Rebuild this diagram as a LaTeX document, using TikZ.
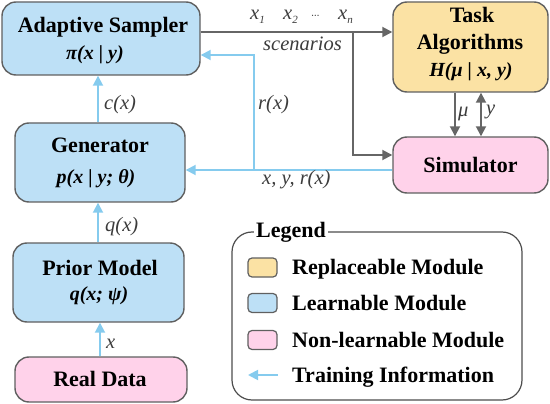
\documentclass[tikz,border=0pt]{standalone}
\usepackage{fontspec}
\setmainfont{Liberation Serif}
\usetikzlibrary{arrows.meta,calc}
\definecolor{lblue}{HTML}{BDE0F6}
\definecolor{lyellow}{HTML}{FBE2A4}
\definecolor{lpink}{HTML}{FFD2EA}
\definecolor{bordergray}{HTML}{606060}
\definecolor{arrgray}{HTML}{666666}
\definecolor{arrblue}{HTML}{85CBEE}
\definecolor{labelgray}{HTML}{3C3C3C}
\begin{document}
\begin{tikzpicture}[x=1pt,y=-1pt,
  box/.style={draw=bordergray, line width=1.4pt, rounded corners=14pt, inner sep=0pt, anchor=center},
  swatch/.style={draw=bordergray, line width=1.2pt, rounded corners=4pt, inner sep=0pt, minimum width=29pt, minimum height=19pt},
  ttl/.style={font=\fontsize{22}{22}\selectfont\bfseries, anchor=base, inner sep=0pt},
  frm/.style={font=\fontsize{20}{20}\selectfont\bfseries\itshape, anchor=base, inner sep=0pt},
  lbl/.style={font=\fontsize{20.5}{20.5}\selectfont\itshape, text=labelgray, anchor=base west, inner sep=0pt},
  legtxt/.style={font=\fontsize{22}{22}\selectfont\bfseries, anchor=base west, inner sep=0pt},
  garr/.style={draw=arrgray, line width=1.8pt, -{Triangle[length=10pt,width=10pt]}},
  gdarr/.style={draw=arrgray, line width=1.8pt, {Triangle[length=10pt,width=10pt]}-{Triangle[length=10pt,width=10pt]}},
  barr/.style={draw=arrblue, line width=1.8pt, -{Triangle[length=10pt,width=10pt]}}
]
\useasboundingbox (0,0) rectangle (550,404);

% boxes
\node[box, fill=lblue, minimum width=198pt, minimum height=73pt] (sampler) at (101,38.5) {};
\node[box, fill=lblue, minimum width=170pt, minimum height=79pt] (gen) at (100,162.5) {};
\node[box, fill=lblue, minimum width=171pt, minimum height=79pt] (prior) at (98.5,282.5) {};
\node[box, fill=lpink, minimum width=172pt, minimum height=45pt] (real) at (101,379.5) {};
\node[box, fill=lyellow, minimum width=155pt, minimum height=90pt] (task) at (470.5,47) {};
\node[box, fill=lpink, minimum width=155pt, minimum height=56pt] (sim) at (470.5,165) {};

% box texts
\node[ttl] (samplerT) at (103,33) {Adaptive Sampler};
\node[frm] (samplerF) at (95,60) {π(x | y)};
\node[ttl] (genT) at (100,153) {Generator};
\node[frm] (genF) at (96,183) {p(x | y; θ)};
\node[ttl] (priorT) at (100,276) {Prior Model};
\node[frm] (priorF) at (99,300) {q(x; ψ)};
\node[ttl] (realT) at (100,386) {Real Data};
\node[ttl] (taskT1) at (472,23) {Task};
\node[ttl] (taskT2) at (470,50) {Algorithms};
\node[frm] (taskF) at (471,77) {H(μ | x, y)};
\node[ttl] (simT) at (470.5,173) {Simulator};

% helper coordinates
\coordinate (yA) at (0,32);
\coordinate (yB) at (0,155);
\coordinate (yC) at (0,170);
\coordinate (yD) at (0,55);
\coordinate (br) at (353,32);
\coordinate (rb) at (254,170);
\coordinate (xC) at (98,0);
\coordinate (xX) at (100,0);
\coordinate (xM) at (455,0);
\coordinate (xY) at (481,0);

% gray connectors
\draw[garr] (sampler.east |- yA) -- (task.west |- yA);
\draw[garr] (br) |- (sim.west |- yB);
\draw[garr] (task.south -| xM) -- (sim.north -| xM);
\draw[gdarr] (sim.north -| xY) -- (task.south -| xY);

% blue connectors
\draw[barr] (sim.west |- yC) -- (gen.east |- yC);
\draw[barr] (rb) |- (sampler.east |- yD);
\draw[barr] (gen.north -| xC) -- (sampler.south -| xC);
\draw[barr] (prior.north -| xC) -- (gen.south -| xC);
\draw[barr] (real.north -| xX) -- (prior.south -| xX);

% labels
\node[lbl] (lx1) at (250,19.5) {x\raisebox{-4pt}{\fontsize{11}{11}\selectfont 1}};
\node[lbl] (lx2) at (283,19.5) {x\raisebox{-4pt}{\fontsize{11}{11}\selectfont 2}};
\node[lbl] (ldots) at (311,19.5) {\fontsize{11}{11}\selectfont ···};
\node[lbl] (lxn) at (338,19.5) {x\raisebox{-4pt}{\fontsize{11}{11}\selectfont n}};
\node[lbl] (lscen) at (263,51) {scenarios};
\node[lbl] (lcx) at (104,110) {c(x)};
\node[lbl] (lrx) at (258,110) {r(x)};
\node[lbl] (lqx) at (105,231) {q(x)};
\node[lbl] (lx) at (106,348) {x};
\node[lbl] (lxyr) at (262,185) {x, y, r(x)};
\node[lbl] (lmu) at (458,117) {μ};
\node[lbl] (ly) at (486,115) {y};

% legend
\node[draw=bordergray!80!black, line width=1.2pt, rounded corners=20pt, minimum width=290pt, minimum height=168pt, inner sep=0pt] (legend) at (377,316) {};
\node[legtxt, fill=white, inner xsep=2pt, inner ysep=3pt] (legT) at (254,237) {Legend};
\node[swatch, fill=lyellow] (sw1) at (262.5,267.5) {};
\node[swatch, fill=lblue] (sw2) at (262.5,303) {};
\node[swatch, fill=lpink] (sw3) at (262.5,340) {};
\coordinate (la1) at (278,375);
\coordinate (la2) at (248,375);
\draw[barr] (la1) -- (la2);
\node[legtxt] (leg1) at (292,274) {Replaceable Module};
\node[legtxt] (leg2) at (292,310) {Learnable Module};
\node[legtxt] (leg3) at (292,347) {Non-learnable Module};
\node[legtxt] (leg4) at (292,382) {Training Information};
\end{tikzpicture}
\end{document}
